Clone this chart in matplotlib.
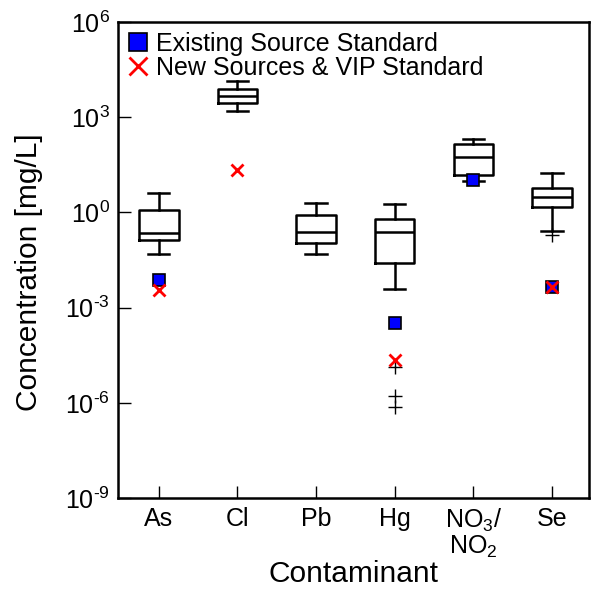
import numpy as np
import matplotlib
matplotlib.use("Agg")
import matplotlib.pyplot as plt
from matplotlib.ticker import FixedLocator, FuncFormatter

plt.rcParams['font.family'] = ['Liberation Sans', 'DejaVu Sans']
plt.rcParams['mathtext.fontset'] = 'custom'
plt.rcParams['mathtext.rm'] = 'Liberation Sans'
plt.rcParams['mathtext.default'] = 'regular'

# contaminants and box statistics (mg/L)
contaminants = ['As', 'Cl', 'Pb', 'Hg', 'NO$_3$/\nNO$_2$', 'Se']
whisker_low = [0.049, 1585, 0.049, 0.00385, 10.0, 0.263]
q1 = [0.14, 2754, 0.111, 0.026, 15.1, 1.51]
median = [0.22, 4467, 0.245, 0.234, 56.9, 3.13]
q3 = [1.19, 7586, 0.83, 0.60, 143, 5.75]
whisker_high = [4.1, 13800, 1.95, 1.82, 200, 17.8]
outliers = [[], [], [], [1.4e-5, 1.6e-6, 7.6e-7], [], [0.195]]

# standards (None = no standard)
existing_std = [0.0074, None, None, 0.00033, 10.5, 0.0044]
new_std = [0.0036, 21.8, None, 2.2e-5, None, 0.0044]

positions = np.arange(1, len(contaminants) + 1)

fig = plt.figure(figsize=(5.96, 5.91), dpi=100)
ax = fig.add_axes([0.198, 0.157, 0.79, 0.806])

stats = []
for i in range(len(contaminants)):
    stats.append({'whislo': whisker_low[i], 'q1': q1[i], 'med': median[i],
                  'q3': q3[i], 'whishi': whisker_high[i], 'fliers': outliers[i]})

lw = 1.8
ax.bxp(stats, positions=positions, widths=0.5, showfliers=True,
       boxprops=dict(color='black', linewidth=lw),
       medianprops=dict(color='black', linewidth=lw),
       whiskerprops=dict(color='black', linewidth=lw),
       capprops=dict(color='black', linewidth=lw),
       capwidths=0.27,
       flierprops=dict(marker='+', markeredgecolor='black', markersize=10,
                       markeredgewidth=1.0))

ex_x = [p for p, v in zip(positions, existing_std) if v is not None]
ex_y = [v for v in existing_std if v is not None]
nw_x = [p for p, v in zip(positions, new_std) if v is not None]
nw_y = [v for v in new_std if v is not None]

ax.plot(ex_x, ex_y, linestyle='none', marker='s', markersize=9,
        markerfacecolor='#0000ff', markeredgecolor='black', markeredgewidth=1.2,
        label='Existing Source Standard', zorder=4)
ax.plot(nw_x, nw_y, linestyle='none', marker='x', markersize=9,
        markeredgecolor='#ff0000', markeredgewidth=2,
        label='New Sources & VIP Standard', zorder=5)

ax.set_yscale('log')
ax.set_ylim(1e-9, 1e6)
ax.set_xlim(0.48, 6.47)
ax.yaxis.set_major_locator(FixedLocator([10.0 ** k for k in range(-9, 7, 3)]))
ax.yaxis.set_minor_locator(FixedLocator([]))


def exp_label(v, p):
    k = int(round(np.log10(v)))
    sign = '\u2010' if k < 0 else ''
    return '$10^{%s%d}$' % (sign, abs(k))


ax.yaxis.set_major_formatter(FuncFormatter(exp_label))
ax.set_xticks(positions)
ax.set_xticklabels(contaminants, linespacing=1.0)

ax.tick_params(axis='both', direction='in', length=9, width=1, labelsize=18,
               top=False, right=False, pad=6)
for sp in ax.spines.values():
    sp.set_linewidth(1.8)

ax.set_ylabel('Concentration [mg/L]', fontsize=21.5)
ax.yaxis.set_label_coords(-0.16, 0.475)
ax.set_xlabel('Contaminant', fontsize=21.5, labelpad=0)

ax.legend(loc='upper left', frameon=False, fontsize=18, handlelength=0.8,
          handletextpad=0.3, labelspacing=0.0, borderaxespad=0.2,
          borderpad=0.2, markerscale=1.5)

fig.savefig('out.png', dpi=100)
